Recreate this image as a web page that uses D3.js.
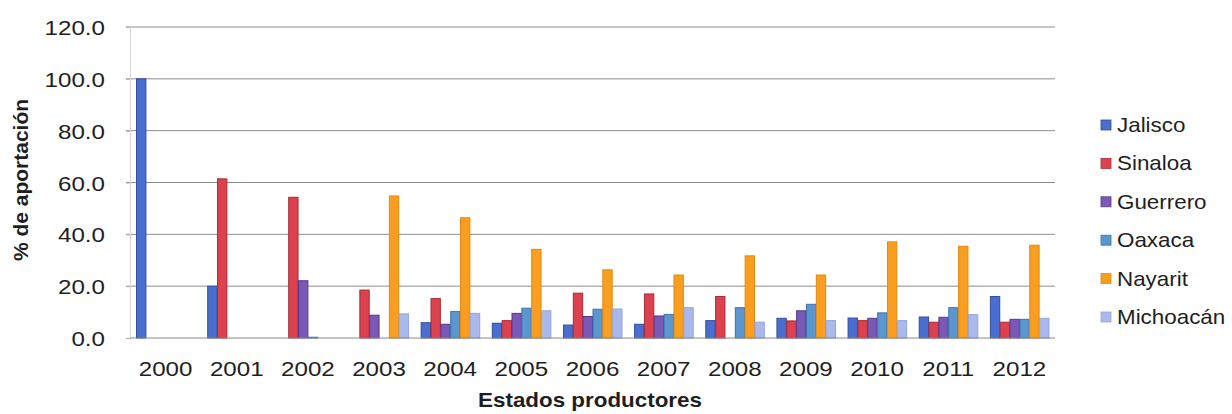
<!DOCTYPE html>
<html>
<head>
<meta charset="utf-8">
<script src="https://cdn.jsdelivr.net/npm/d3@7"></script>
<style>
  html, body { margin: 0; padding: 0; background: #fff; }
  svg { display: block; }
  text { font-family: "Liberation Sans", Arial, sans-serif; fill: #1e1e1e; }
</style>
</head>
<body>
<svg id="chart" width="1232" height="414"></svg>
<script>
// Años (categorías del eje X)
const years = ["2000", "2001", "2002", "2003", "2004", "2005", "2006",
               "2007", "2008", "2009", "2010", "2011", "2012"];

// % de aportación por estado productor
const jalisco   = [100.0, 20.0, 0.0, 0.0, 5.9, 5.7, 5.0, 5.3, 6.7, 7.6, 7.7, 8.1, 16.0];
const sinaloa   = [0.0, 61.4, 54.3, 18.5, 15.2, 6.7, 17.3, 17.0, 16.0, 6.6, 6.7, 6.1, 6.1];
const guerrero  = [0.0, 0.0, 22.1, 8.8, 5.3, 9.5, 8.3, 8.5, 0.0, 10.5, 7.6, 8.0, 7.2];
const oaxaca    = [0.0, 0.0, 0.3, 0.0, 10.2, 11.5, 11.1, 9.1, 11.7, 13.0, 9.7, 11.7, 7.2];
const nayarit   = [0.0, 0.0, 0.0, 54.8, 46.4, 34.2, 26.3, 24.3, 31.7, 24.3, 37.1, 35.4, 35.8];
const michoacan = [0.0, 0.0, 0.0, 9.3, 9.5, 10.5, 11.2, 11.7, 6.1, 6.7, 6.7, 9.0, 7.6];

const seriesNames = ["Jalisco", "Sinaloa", "Guerrero", "Oaxaca", "Nayarit", "Michoacán"];
const seriesValues = [jalisco, sinaloa, guerrero, oaxaca, nayarit, michoacan];

const yTicks = [0, 20, 40, 60, 80, 100, 120];

// Estilos
const fills   = ["#4a6ecf", "#dc414d", "#7a58b6", "#5b96cf", "#f99e20", "#aab9ec"];
const strokes = ["#2f4e9e", "#a52d3a", "#56398c", "#3c74ad", "#e5880e", "#95a5dc"];
const stretch = 1.15; // glyphs are drawn a bit wider than tall

const svg = d3.select("#chart");
const plot = { left: 130, right: 1055, top: 27, bottom: 338 };

const x0 = d3.scaleBand().domain(years).range([plot.left, plot.right]).padding(0);
const groupW = x0.bandwidth() * 0.83;
const x1 = d3.scaleBand().domain(seriesNames)
  .range([(x0.bandwidth() - groupW) / 2, (x0.bandwidth() + groupW) / 2]).padding(0);
const y = d3.scaleLinear().domain([0, 120]).range([plot.bottom, plot.top]);

function label(parent, x, yPos, txt, opts) {
  const g = parent.append("g")
    .attr("transform", `translate(${x},${yPos}) scale(${opts.sx || stretch},1)`);
  g.append("text")
    .attr("text-anchor", opts.anchor || "start")
    .attr("font-size", opts.size)
    .attr("font-weight", opts.weight || "normal")
    .text(txt);
  return g;
}

// Líneas de cuadrícula horizontales
svg.append("g").selectAll("line")
  .data(yTicks.filter(t => t > 0))
  .join("line")
  .attr("x1", plot.left - 4).attr("x2", plot.right)
  .attr("y1", d => y(d)).attr("y2", d => y(d))
  .attr("stroke", "#8c8c8c").attr("stroke-width", 1);

// Eje Y (línea y marcas)
const yAxis = svg.append("g")
  .attr("transform", `translate(${plot.left},0)`)
  .call(d3.axisLeft(y).tickValues(yTicks).tickSize(4).tickFormat(""));
yAxis.select(".domain").attr("stroke", "#d6d6d6");
yAxis.selectAll(".tick line").attr("stroke", "#b0b0b0");

// Etiquetas del eje Y
yTicks.forEach(t => {
  label(svg, 105, y(t) + 8, d3.format(".1f")(t), { size: 21, anchor: "end" });
});

// Barras
const groups = svg.append("g").selectAll("g")
  .data(years)
  .join("g")
  .attr("transform", d => `translate(${x0(d)},0)`);

groups.selectAll("rect")
  .data((yr, i) => seriesNames.map((s, k) => ({ s, k, v: seriesValues[k][i] })))
  .join("rect")
  .filter(d => d.v > 0)
  .attr("x", d => x1(d.s) + 0.5)
  .attr("width", x1.bandwidth() - 0.5)
  .attr("y", d => y(d.v))
  .attr("height", d => Math.max(0.8, y(0) - y(d.v)))
  .attr("fill", d => fills[d.k])
  .attr("stroke", d => strokes[d.k])
  .attr("stroke-width", 1);

// Eje X (línea base)
svg.append("line")
  .attr("x1", plot.left).attr("x2", plot.right)
  .attr("y1", y(0)).attr("y2", y(0))
  .attr("stroke", "#8a8a8a").attr("stroke-width", 1.2);

// Etiquetas del eje X
years.forEach(yr => {
  label(svg, x0(yr) + x0.bandwidth() / 2, 376, yr, { size: 21, anchor: "middle" });
});

// Títulos de ejes
label(svg, 590, 407, "Estados productores", { size: 20, anchor: "middle", weight: "bold", sx: 1.12 });
svg.append("text")
  .attr("transform", `translate(28,180) rotate(-90)`)
  .attr("text-anchor", "middle")
  .attr("font-size", 21)
  .attr("font-weight", "bold")
  .text("% de aportación");

// Leyenda
const legend = svg.append("g");
seriesNames.forEach((s, k) => {
  const cy = 125 + k * 38.4;
  legend.append("rect")
    .attr("x", 1101).attr("y", cy - 5)
    .attr("width", 10).attr("height", 10)
    .attr("fill", fills[k]).attr("stroke", strokes[k]).attr("stroke-width", 0.8);
  label(legend, 1117, cy + 7, s, { size: 20, anchor: "start", sx: 1.12 });
});
</script>
</body>
</html>
